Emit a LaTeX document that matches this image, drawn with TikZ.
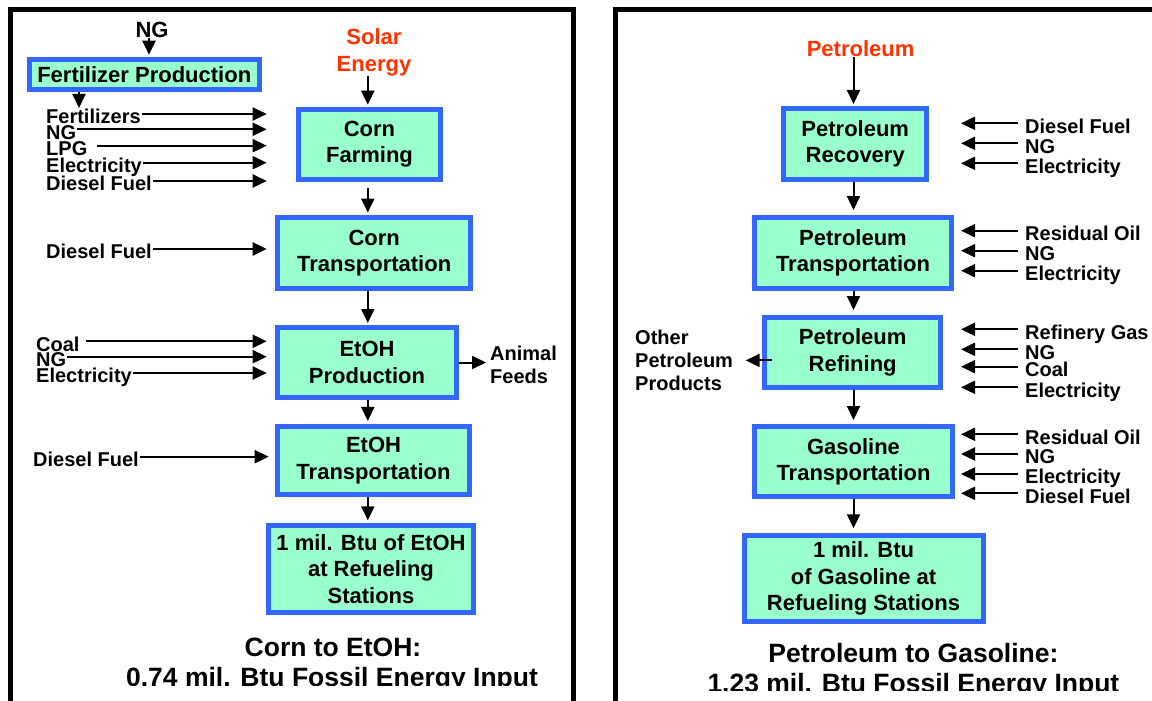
\documentclass[tikz,border=0pt]{standalone}
\usepackage{fontspec}
\setmainfont{Liberation Sans}
\usetikzlibrary{arrows.meta}
\definecolor{boxfill}{HTML}{99FFCC}
\definecolor{boxline}{HTML}{3366FF}
\definecolor{srcred}{HTML}{FF3300}
\begin{document}
\begin{tikzpicture}[x=1pt,y=-1pt,
  proc/.style={draw=boxline,line width=5pt,fill=boxfill,inner sep=0pt,align=center,
    font=\fontsize{22}{26.5}\selectfont\bfseries},
  lab/.style={inner sep=1pt,anchor=west,text height=19.5pt,text depth=0pt,
    font=\fontsize{20}{20}\selectfont\bfseries},
  side/.style={inner sep=1pt,align=left,font=\fontsize{20}{22.8}\selectfont\bfseries},
  src/.style={inner sep=0pt,align=center,font=\fontsize{22}{26.5}\selectfont\bfseries},
  ttl/.style={anchor=base,inner sep=0pt,font=\fontsize{26.5}{30}\selectfont\bfseries},
  arr/.style={line width=2pt,-{Triangle[length=14pt,width=13pt]}},
  panel/.style={draw=black,line width=5pt}]
\useasboundingbox (0,0) rectangle (1152,701);
\clip (0,0) rectangle (1152,701);
\fill[white] (0,0) rectangle (1152,701);
% panels
\draw[panel] (10.5,10) rectangle (573.5,730);
\draw[panel] (615,10) rectangle (1180,730);

% ---------------- left panel ----------------
\coordinate (lax) at (367.8,0);
\coordinate (lin) at (266.7,0);
\coordinate (fdn) at (79,108);
\node[src] (ng0) at (152,30) {NG};
\node[src,text=srcred] (solar) at (374,52.3) {Solar\\Energy};
\node[proc,minimum width=229.5pt,minimum height=30.6pt] (fert) at (144.25,74.5) {Fertilizer Production};
\node[proc,minimum width=142pt,minimum height=70pt] (cf) at (369.5,144.2) {Corn\\Farming};
\node[proc,minimum width=193.3pt,minimum height=70.7pt] (ct) at (374.2,252.9) {Corn\\Transportation};
\node[proc,minimum width=179pt,minimum height=70pt] (ep) at (367,362.5) {EtOH\\Production};
\node[proc,minimum width=192pt,minimum height=68.5pt] (et) at (373.5,460.7) {EtOH\\Transportation};
\node[proc,minimum width=205pt,minimum height=86.4pt] (ef) at (371,569) {1 mil. Btu of EtOH\\at Refueling\\Stations};

\draw[arr,shorten >=2pt] ([xshift=-3pt]ng0.south) -- ([xshift=-3pt]ng0.south |- fert.north);
\draw[arr] (fert.south -| fdn) -- (fdn);
\draw[arr,shorten >=2pt] (solar.south -| lax) -- (cf.north -| lax);
\draw[arr,shorten >=2.5pt,shorten <=6pt] (cf.south -| lax) -- (ct.north -| lax);
\draw[arr,shorten >=2pt] (ct.south -| lax) -- (ep.north -| lax);
\draw[arr,shorten >=3pt] (ep.south -| lax) -- (et.north -| lax);
\draw[arr,shorten >=3pt] (et.south -| lax) -- (ef.north -| lax);

\node[lab] (l1) at (45,114) {Fertilizers};
\node[lab] (l2) at (45,129.3) {NG};
\node[lab] (l3) at (45,145.7) {LPG};
\node[lab] (l4) at (45,162.7) {Electricity};
\node[lab] (l5) at (45,181) {Diesel Fuel};
\node[lab] (l6) at (45,249) {Diesel Fuel};
\node[lab] (l7) at (35,341.3) {Coal};
\node[lab] (l8) at (35,356.7) {NG};
\node[lab] (l9) at (35,373) {Electricity};
\node[lab] (l10) at (32,456.7) {Diesel Fuel};
\draw[arr] (l1.east) -- (l1.east -| lin);
\draw[arr] (l2.east) -- (l2.east -| lin);
\draw[arr] ([xshift=8pt]l3.east) -- (l3.east -| lin);
\draw[arr] (l4.east) -- (l4.east -| lin);
\draw[arr] (l5.east) -- (l5.east -| lin);
\draw[arr] (l6.east) -- (l6.east -| lin);
\draw[arr] ([xshift=5pt]l7.east) -- (l7.east -| lin);
\draw[arr] (l8.east) -- (l8.east -| lin);
\draw[arr] (l9.east) -- (l9.east -| lin);
\draw[arr] (l10.east) -- ([xshift=2pt]l10.east -| lin);

\node[side,anchor=west] (af) at (489,364.5) {Animal\\Feeds};
\draw[arr,shorten >=3pt] (ep.east) -- (ep.east -| af.west);

\begin{scope}
\clip (0,0) rectangle (600,685);
\node[ttl] (t1a) at (333,656.2) {Corn to EtOH:};
\node[ttl] (t1b) at (332,686.2) {0.74 mil. Btu Fossil Energy Input};
\end{scope}

% ---------------- right panel ----------------
\coordinate (rax) at (853.5,0);
\coordinate (rin) at (961,0);
\node[src,text=srcred] (pet) at (860.6,48.3) {Petroleum};
\node[proc,minimum width=142.9pt,minimum height=70.7pt] (rv) at (855.25,143.85) {Petroleum\\Recovery};
\node[proc,minimum width=197pt,minimum height=70.7pt] (pt) at (853,252.85) {Petroleum\\Transportation};
\node[proc,minimum width=176.3pt,minimum height=70pt] (rf) at (852.65,352.5) {Petroleum\\Refining};
\node[proc,minimum width=198pt,minimum height=70.3pt] (gt) at (853.5,461.65) {Gasoline\\Transportation};
\node[proc,minimum width=239.1pt,minimum height=86pt] (gf) at (863.55,578.8) {1 mil. Btu\\of Gasoline at\\Refueling Stations};

\draw[arr,shorten >=2pt] (pet.south -| rax) -- (rv.north -| rax);
\draw[arr,shorten >=5pt] (rv.south -| rax) -- (pt.north -| rax);
\draw[arr,shorten >=5pt] (pt.south -| rax) -- (rf.north -| rax);
\draw[arr,shorten >=4pt] (rf.south -| rax) -- (gt.north -| rax);
\draw[arr,shorten >=5pt] (gt.south -| rax) -- (gf.north -| rax);

\node[lab] (r1) at (1024,123.3) {Diesel Fuel};
\node[lab] (r2) at (1024,143.3) {NG};
\node[lab] (r3) at (1024,163.3) {Electricity};
\node[lab] (r4) at (1024,230.7) {Residual Oil};
\node[lab] (r5) at (1024,250.7) {NG};
\node[lab] (r6) at (1024,270.7) {Electricity};
\node[lab] (r7) at (1024,329.3) {Refinery Gas};
\node[lab] (r8) at (1024,349.3) {NG};
\node[lab] (r9) at (1024,366.7) {Coal};
\node[lab] (r10) at (1024,387.3) {Electricity};
\node[lab] (r11) at (1024,434.3) {Residual Oil};
\node[lab] (r12) at (1024,454) {NG};
\node[lab] (r13) at (1024,474) {Electricity};
\node[lab] (r14) at (1024,493.3) {Diesel Fuel};
\foreach \r in {r1,r2,r3,r4,r5,r6,r7,r8,r9,r10,r11,r12,r13,r14}
  \draw[arr] ([xshift=-6pt]\r.west) -- (\r.west -| rin);

\node[side,anchor=west] (opp) at (634,360.4) {Other\\Petroleum\\Products};
\draw[arr,shorten <=-10pt,shorten >=11.5pt] (opp.east -| rf.west) -- (opp.east);

\begin{scope}
\clip (600,0) rectangle (1152,690.5);
\node[ttl] (t2a) at (913.4,662.8) {Petroleum to Gasoline:};
\node[ttl] (t2b) at (913.4,692.8) {1.23 mil. Btu Fossil Energy Input};
\end{scope}
\end{tikzpicture}
\end{document}
